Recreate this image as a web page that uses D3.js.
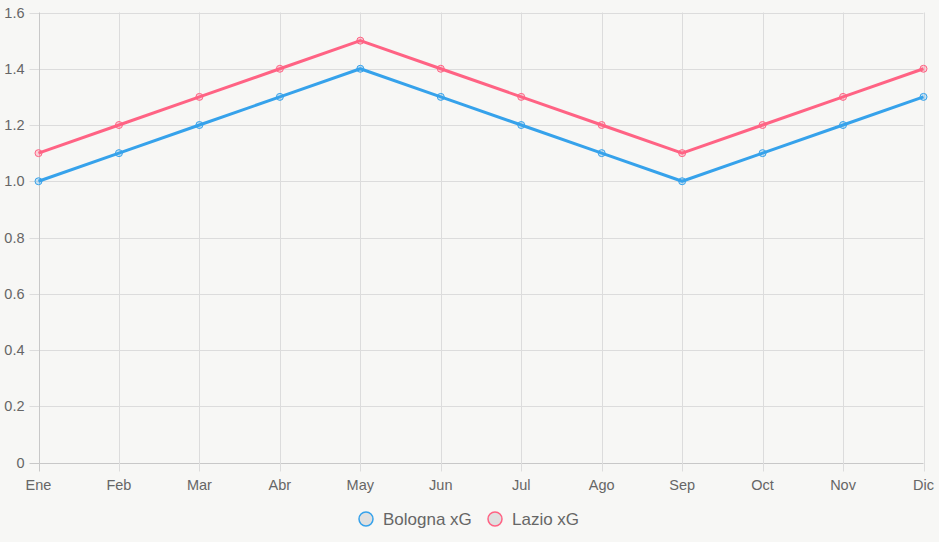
<!DOCTYPE html>
<html lang="es">
<head>
  <meta charset="UTF-8"/>
  <title>xG Bologna vs Lazio</title>
  <script src="https://d3js.org/d3.v7.min.js"></script>
  <style>
body {
  margin: 0;
  background: #f7f7f5;
  font-family: 'Liberation Sans', Arial, sans-serif;
}
svg {
  display: block;
}
.grid line {
  stroke: #dcdcdc;
  stroke-width: 1;
}
.tick text {
  fill: #666;
  font-size: 14.5px;
}
.legend text {
  fill: #666;
  font-size: 17px;
}
  </style>
</head>
<body>
  <svg width="939" height="542"></svg>
  <script>
const months = ['Ene', 'Feb', 'Mar', 'Abr', 'May', 'Jun', 'Jul', 'Ago', 'Sep', 'Oct', 'Nov', 'Dic'];
const bologna = [1.0, 1.1, 1.2, 1.3, 1.4, 1.3, 1.2, 1.1, 1.0, 1.1, 1.2, 1.3];
const lazio = [1.1, 1.2, 1.3, 1.4, 1.5, 1.4, 1.3, 1.2, 1.1, 1.2, 1.3, 1.4];
const yTicks = [0, 0.2, 0.4, 0.6, 0.8, 1.0, 1.2, 1.4, 1.6];

const series = [
  { name: 'Bologna xG', values: bologna, color: '#36a2eb', fill: 'rgba(54,162,235,0.25)' },
  { name: 'Lazio xG', values: lazio, color: '#ff6384', fill: 'rgba(255,99,132,0.25)' }
];

const svg = d3.select('svg');
const plotLeft = 38.5, plotRight = 923.5, plotTop = 12.5, plotBottom = 462.5;

const x = d3.scalePoint().domain(months).range([plotLeft, plotRight]);
const y = d3.scaleLinear().domain([0, 1.6]).range([plotBottom, plotTop]);

// horizontal grid
const gy = svg.append('g').attr('class', 'grid');
gy.selectAll('line').data(yTicks).enter().append('line')
  .attr('x1', plotLeft - 9).attr('x2', plotRight)
  .attr('y1', d => Math.round(y(d)) + 0.5).attr('y2', d => Math.round(y(d)) + 0.5)
  .style('stroke', d => d === 0 ? '#c8c8c8' : '#dcdcdc');

// vertical grid
const gx = svg.append('g').attr('class', 'grid');
gx.selectAll('line').data(months).enter().append('line')
  .attr('x1', d => Math.round(x(d)) + 0.5).attr('x2', d => Math.round(x(d)) + 0.5)
  .attr('y1', plotTop).attr('y2', plotBottom + 9)
  .style('stroke', (d, i) => i === 0 ? '#c8c8c8' : '#dcdcdc');

// y labels
svg.append('g').attr('class', 'tick')
  .selectAll('text').data(yTicks).enter().append('text')
  .attr('x', plotLeft - 14).attr('y', d => y(d))
  .attr('dy', '0.35em')
  .attr('text-anchor', 'end')
  .text(d => d === 0 ? '0' : d3.format('.1f')(d));

// x labels
svg.append('g').attr('class', 'tick')
  .selectAll('text').data(months).enter().append('text')
  .attr('x', d => x(d)).attr('y', 490)
  .attr('text-anchor', 'middle')
  .text(d => d);

const line = d3.line().x((d, i) => x(months[i])).y(d => y(d));

series.forEach(s => {
  svg.append('path')
    .datum(s.values)
    .attr('d', line)
    .attr('fill', 'none')
    .attr('stroke', s.color)
    .attr('stroke-width', 3)
    .attr('stroke-linejoin', 'round');
  svg.append('g').selectAll('circle').data(s.values).enter().append('circle')
    .attr('cx', (d, i) => x(months[i]))
    .attr('cy', d => y(d))
    .attr('r', 3.5)
    .attr('fill', s.fill)
    .attr('stroke', s.color)
    .attr('stroke-width', 1);
});

// legend
const legend = svg.append('g').attr('class', 'legend');
const legendX = [366, 495];
series.forEach((s, i) => {
  legend.append('circle')
    .attr('cx', legendX[i]).attr('cy', 519).attr('r', 7)
    .attr('fill', '#e0e0e0')
    .attr('stroke', s.color).attr('stroke-width', 1.5);
  legend.append('text')
    .attr('x', legendX[i] + 17).attr('y', 519).attr('dy', '0.35em')
    .text(s.name);
});
  </script>
</body>
</html>
